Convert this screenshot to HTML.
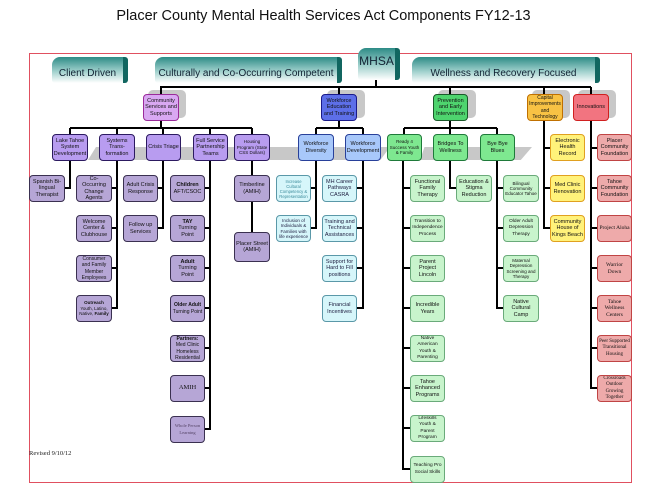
<!DOCTYPE html>
<html><head><meta charset="utf-8"><style>
body{margin:0;width:647px;height:500px;background:#fff;position:relative;overflow:hidden;font-family:"Liberation Sans",sans-serif}
.b{position:absolute;box-sizing:border-box;border-radius:4px;border:1.5px solid #333;display:flex;align-items:center;justify-content:center;text-align:center;font-size:5.5px;line-height:6.3px;color:#111;padding:1px;overflow:hidden}
.p3{background:#b6a6d6;border-color:#3a3050}
.p2{background:#b89cf0;border-color:#2c1a60}
.c3{background:#d6f6fa;border-color:#5a98a8;color:#224}
.c2{background:#a8c8fa;border-color:#28409a}
.g3{background:#c8f4cc;border-color:#6aaa7a}
.g2{background:#7ee890;border-color:#1f7a3a}
.y3{background:#fff27a;border-color:#e0a020}
.r3{background:#eeaaaa;border-color:#c04444;font-family:"Liberation Serif",serif}
.sh{position:absolute;background:#c8c8c8;border-radius:5px}
.ban{position:absolute;box-sizing:border-box;border-radius:8px 3px 3px 3px;background:linear-gradient(#2d8b86,#9fd0cc 55%,#fff);border-right:5px solid #116660;font-size:10px;color:#123;display:flex;align-items:center;justify-content:center;padding-top:6px;white-space:nowrap}
</style></head><body>
<div style="position:absolute;top:8px;left:0;width:647px;text-align:center;font-size:14.5px;color:#111">Placer County Mental Health Services Act Components FY12-13</div>
<div style="position:absolute;left:29px;top:53px;width:603px;height:430px;border:1.5px solid #e05060;box-sizing:border-box"></div>
<div class="ban" style="left:52px;top:57px;width:76px;height:26px">Client Driven</div>
<div class="ban" style="left:155px;top:57px;width:187px;height:26px">Culturally and Co-Occurring Competent</div>
<div class="ban" style="left:412px;top:57px;width:188px;height:26px">Wellness and Recovery Focused</div>
<div class="ban" style="left:358px;top:48px;width:42px;height:32px;font-size:12px;align-items:flex-start;padding-top:6px">MHSA</div>

<div class="sh" style="left:148px;top:90px;width:38px;height:28px"></div>
<div class="sh" style="left:327px;top:90px;width:38px;height:28px"></div>
<div class="sh" style="left:438px;top:90px;width:38px;height:28px"></div>
<div class="sh" style="left:532px;top:90px;width:38px;height:28px"></div>
<div class="sh" style="left:578px;top:90px;width:38px;height:28px"></div>
<div style="position:absolute;left:88px;top:147px;width:200px;height:13px;background:#c8c8c8;clip-path:polygon(4% 0,100% 0,92% 100%,0 100%)"></div>
<div style="position:absolute;left:270px;top:147px;width:120px;height:13px;background:#c8c8c8;clip-path:polygon(8% 0,100% 0,92% 100%,0 100%)"></div>
<div style="position:absolute;left:420px;top:147px;width:112px;height:13px;background:#c8c8c8;clip-path:polygon(4% 0,100% 0,90% 100%,0 100%)"></div>

<svg width="647" height="500" style="position:absolute;left:0;top:0" fill="none" stroke="#000" stroke-width="2">
<path d="M376 80V87M160 87H591M161 87V94M339 87V94M450 87V94M544 87V94M591 87V94"/>
<path d="M161 121V128M70 128H252M70 128V134M117 128V134M163 128V134M210 128V134M252 128V134"/>
<path d="M339 121V128M316 128H363M316 128V134M363 128V134"/>
<path d="M450 121V128M404 128H497M404 128V134M450 128V134M497 128V134"/>
<path d="M70 161V188H65"/>
<path d="M117 161V309M117 188H112M117 228H112M117 268H112M117 308H112"/>
<path d="M163 161V229M163 188H158M163 228H158"/>
<path d="M210 161V430M210 188H205M210 228H205M210 268H205M210 308H205M210 348H205M210 388H205M210 429H205"/>
<path d="M252 161V248"/>
<path d="M316 161V229M316 188H311M316 228H311"/>
<path d="M363 161V309M363 188H357M363 228H357M363 268H357M363 308H357"/>
<path d="M403 161V470M403 188H410M403 228H410M403 268H410M403 308H410M403 348H410M403 388H410M403 428H410M403 469H410"/>
<path d="M450 161V188H456"/>
<path d="M497 161V309M497 188H503M497 228H503M497 268H503M497 308H503"/>
<path d="M544 121V229M544 148H550M544 188H550M544 228H550"/>
<path d="M591 121V389M591 148H597M591 188H597M591 228H597M591 268H597M591 308H597M591 348H597M591 388H597"/>
</svg>

<div class="b" style="left:143px;top:94px;width:36px;height:27px;background:#d9a8f2;border-color:#9a2a9a">Community Services and Supports</div>
<div class="b" style="left:321px;top:94px;width:36px;height:27px;background:#5d6fe8;border-color:#1a1a8a">Workforce Education and Training</div>
<div class="b" style="left:433px;top:94px;width:35px;height:27px;background:#4ed46e;border-color:#1a5a2a">Prevention and Early Intervention</div>
<div class="b" style="left:527px;top:94px;width:36px;height:27px;background:#f8c244;border-color:#c07000;font-size:5px">Capital Improvements and Technology</div>
<div class="b" style="left:573px;top:94px;width:36px;height:27px;background:#f27480;border-color:#d02020">Innovations</div>

<div class="b p2" style="left:52px;top:134px;width:36px;height:27px">Lake Tahoe System Development</div>
<div class="b p2" style="left:99px;top:134px;width:36px;height:27px">Systems Trans-formation</div>
<div class="b p2" style="left:146px;top:134px;width:35px;height:27px">Crisis Triage</div>
<div class="b p2" style="left:193px;top:134px;width:35px;height:27px">Full Service Partnership Teams</div>
<div class="b p2" style="left:234px;top:134px;width:36px;height:27px;font-size:4.5px;line-height:5.5px">Housing Program (State CSS Dollars)</div>
<div class="b c2" style="left:298px;top:134px;width:36px;height:27px">Workforce Diversity</div>
<div class="b c2" style="left:345px;top:134px;width:36px;height:27px">Workforce Development</div>
<div class="b g2" style="left:387px;top:134px;width:35px;height:27px;font-size:4.5px;line-height:5.5px">Ready 4 Success Youth &amp; Family</div>
<div class="b g2" style="left:433px;top:134px;width:35px;height:27px">Bridges To Wellness</div>
<div class="b g2" style="left:480px;top:134px;width:35px;height:27px">Bye Bye Blues</div>

<div class="b p3" style="left:29px;top:175px;width:36px;height:27px">Spanish Bi-lingual Therapist</div>
<div class="b p3" style="left:76px;top:175px;width:36px;height:27px">Co-Occurring Change Agents</div>
<div class="b p3" style="left:76px;top:215px;width:36px;height:27px">Welcome Center &amp; Clubhouse</div>
<div class="b p3" style="left:76px;top:255px;width:36px;height:27px;font-size:5px">Consumer and Family Member Employees</div>
<div class="b p3" style="left:76px;top:295px;width:36px;height:27px;font-size:4.5px;line-height:5.5px"><span><b>Outreach</b><br>Youth, Latino, Native, <b>Family</b></span></div>
<div class="b p3" style="left:123px;top:175px;width:35px;height:27px">Adult Crisis Response</div>
<div class="b p3" style="left:123px;top:215px;width:35px;height:27px">Follow up Services</div>
<div class="b p3" style="left:170px;top:175px;width:35px;height:27px"><span><b>Children</b><br>AFT/CSOC</span></div>
<div class="b p3" style="left:170px;top:215px;width:35px;height:27px"><span><b>TAY</b><br>Turning Point</span></div>
<div class="b p3" style="left:170px;top:255px;width:35px;height:27px"><span><b>Adult</b><br>Turning Point</span></div>
<div class="b p3" style="left:170px;top:295px;width:35px;height:27px;font-size:5px"><span><b>Older Adult</b><br>Turning Point</span></div>
<div class="b p3" style="left:170px;top:335px;width:35px;height:27px;font-size:5px"><span><b>Partners:</b><br>Med Clinic Homeless Residential</span></div>
<div class="b p3" style="left:170px;top:375px;width:35px;height:27px;font-family:'Liberation Serif',serif;font-size:6.5px">AMIH</div>
<div class="b p3" style="left:170px;top:416px;width:35px;height:27px;font-family:'Liberation Serif',serif;color:#546;font-size:4.5px">Whole Person Learning</div>
<div class="b p3" style="left:234px;top:175px;width:36px;height:27px">Timberline (AMIH)</div>
<div class="b p3" style="left:234px;top:232px;width:36px;height:30px">Placer Street (AMIH)</div>

<div class="b c3" style="left:276px;top:175px;width:35px;height:27px;font-size:4.2px;line-height:5px;color:#3a8a9a">Increase Cultural Competency &amp; Representation</div>
<div class="b c3" style="left:276px;top:215px;width:35px;height:27px;font-size:4.5px;line-height:5.3px">Inclusion of Individuals &amp; Families with life experience</div>
<div class="b c3" style="left:322px;top:175px;width:35px;height:27px">MH Career Pathways CASRA</div>
<div class="b c3" style="left:322px;top:215px;width:35px;height:27px">Training and Technical Assistances</div>
<div class="b c3" style="left:322px;top:255px;width:35px;height:27px">Support for Hard to Fill positions</div>
<div class="b c3" style="left:322px;top:295px;width:35px;height:27px">Financial Incentives</div>

<div class="b g3" style="left:410px;top:175px;width:35px;height:27px">Functional Family Therapy</div>
<div class="b g3" style="left:410px;top:215px;width:35px;height:27px;font-size:4.8px">Transition to Independence Process</div>
<div class="b g3" style="left:410px;top:255px;width:35px;height:27px">Parent Project Lincoln</div>
<div class="b g3" style="left:410px;top:295px;width:35px;height:27px">Incredible Years</div>
<div class="b g3" style="left:410px;top:335px;width:35px;height:27px;font-size:4.8px">Native American Youth &amp; Parenting</div>
<div class="b g3" style="left:410px;top:375px;width:35px;height:27px">Tahoe Enhanced Programs</div>
<div class="b g3" style="left:410px;top:415px;width:35px;height:27px;font-size:4.8px">Lifeskills Youth &amp; Parent Program</div>
<div class="b g3" style="left:410px;top:456px;width:35px;height:27px;font-size:4.8px">Teaching Pro Social Skills</div>
<div class="b g3" style="left:456px;top:175px;width:36px;height:27px">Education &amp; Stigma Reduction</div>
<div class="b g3" style="left:503px;top:175px;width:36px;height:27px;font-size:4.5px;line-height:5.3px">Bilingual Community Educator Tahoe</div>
<div class="b g3" style="left:503px;top:215px;width:36px;height:27px;font-size:4.8px">Older Adult Depression Therapy</div>
<div class="b g3" style="left:503px;top:255px;width:36px;height:27px;font-size:4.5px;line-height:5.3px">Maternal Depression Screening and Therapy</div>
<div class="b g3" style="left:503px;top:295px;width:36px;height:27px">Native Cultural Camp</div>

<div class="b y3" style="left:550px;top:134px;width:35px;height:27px">Electronic Health Record</div>
<div class="b y3" style="left:550px;top:175px;width:35px;height:27px">Med Clinic Renovation</div>
<div class="b y3" style="left:550px;top:215px;width:35px;height:27px">Community House of Kings Beach</div>

<div class="b r3" style="left:597px;top:134px;width:35px;height:27px;font-family:'Liberation Sans',sans-serif">Placer Community Foundation</div>
<div class="b r3" style="left:597px;top:175px;width:35px;height:27px;font-family:'Liberation Sans',sans-serif">Tahoe Community Foundation</div>
<div class="b r3" style="left:597px;top:215px;width:35px;height:27px">Project Aloha</div>
<div class="b r3" style="left:597px;top:255px;width:35px;height:27px">Warrior Down</div>
<div class="b r3" style="left:597px;top:295px;width:35px;height:27px">Tahoe Wellness Centers</div>
<div class="b r3" style="left:597px;top:335px;width:35px;height:27px;font-size:5px">Peer Supported Transitional Housing</div>
<div class="b r3" style="left:597px;top:375px;width:35px;height:27px;font-size:5px">Crossroads Outdoor Growing Together</div>

<div style="position:absolute;left:29px;top:450px;font-family:'Liberation Serif',serif;font-size:6.5px;color:#222">Revised 9/10/12</div>
</body></html>
